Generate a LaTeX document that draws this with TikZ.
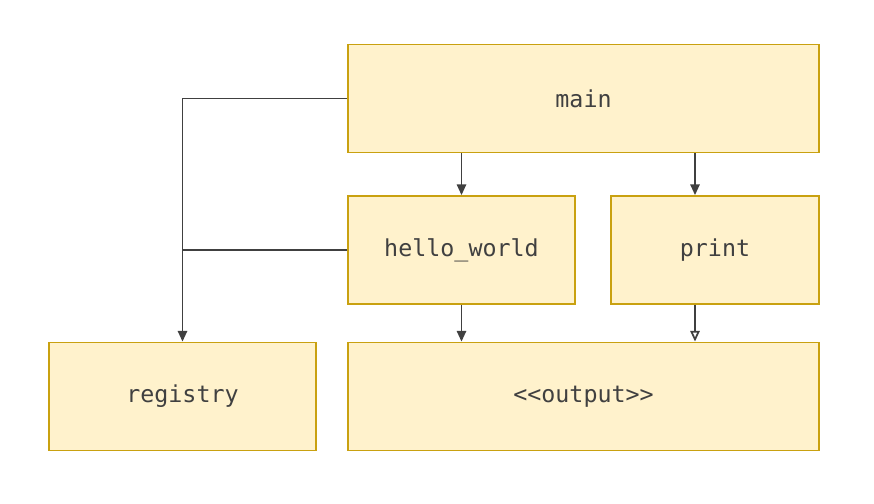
\documentclass[tikz,border=0pt]{standalone}
\usepackage{fontspec}
\setmonofont{DejaVu Sans Mono}
\usetikzlibrary{arrows.meta, positioning}
\definecolor{boxfill}{HTML}{FFF2CC}
\definecolor{boxline}{HTML}{C9A110}
\definecolor{linkgray}{HTML}{404040}
\tikzset{
  modblock/.style={
    rectangle,
    minimum height=81pt,
    align = center,
    draw=boxline,
    fill=boxfill,
    line width = 1.4pt,
    text=linkgray,
    font=\ttfamily\fontsize{17.5}{20}\selectfont,
  },
  link/.style={
    line width = 1.3pt,
    draw=linkgray,
    -{Triangle[length=8pt,width=7pt]},
  },
  openlink/.style={
    line width = 1.3pt,
    draw=linkgray,
    -{Triangle[open,length=8pt,width=7pt]},
  },
  joinline/.style={
    line width = 1.3pt,
    draw=linkgray,
  },
}

\begin{document}
\begin{tikzpicture}[x=0.75pt, y=-0.75pt]
    \useasboundingbox (0,0) rectangle (874,503);
    \node (main) [modblock, minimum width=353pt] at (583.5,98.5) {main};
    \node (hello) [modblock, minimum width=170pt] at (461.5,250) {hello\_world};
    \node (print) [modblock, minimum width=156pt] at (715,250) {print};
    \node (registry) [modblock, minimum width=200pt] at (182.5,396.5) {registry};
    \node (output) [modblock, minimum width=353pt] at (583.5,396.5) {<{}<output>{}>};
    \coordinate (tap) at (695,0);
    \draw [link] (main.west) -| (registry.north);
    \draw [joinline] (hello.west) -- (hello.west -| registry.north);
    \draw [link] (main.south -| hello.north) -- (hello.north);
    \draw [link] (main.south -| tap) -- (print.north -| tap);
    \draw [link] (hello.south) -- (hello.south |- output.north);
    \draw [openlink] (print.south -| tap) -- (output.north -| tap);
\end{tikzpicture}
\end{document}
